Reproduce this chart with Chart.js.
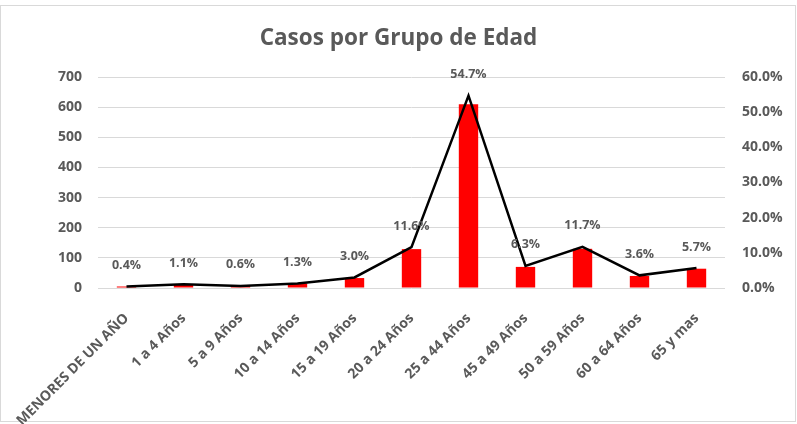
<!DOCTYPE html>
<html lang="es">
<head>
    <meta charset="UTF-8">
    <title>Casos por Grupo de Edad</title>
    <script src="https://cdn.jsdelivr.net/npm/chart.js"></script>
    <style>
        body {
            margin: 0;
            background: #ffffff;
        }
        .chart-container {
            width: 797px;
            height: 424px;
        }
    </style>
</head>
<body>
    <div class="chart-container">
        <canvas id="age-chart"></canvas>
    </div>

    <script>
        // Data
        const ageGroups = ['MENORES DE UN AÑO', '1 a 4 Años', '5 a 9 Años', '10 a 14 Años', '15 a 19 Años',
            '20 a 24 Años', '25 a 44 Años', '45 a 49 Años', '50 a 59 Años', '60 a 64 Años', '65 y mas'];
        const cases = [5, 12, 7, 15, 33, 129, 610, 70, 130, 40, 64];
        const percentages = [0.4, 1.1, 0.6, 1.3, 3.0, 11.6, 54.7, 6.3, 11.7, 3.6, 5.7];

        const gray = '#595959';
        const tickFont = { family: 'Open Sans', size: 14, weight: 'bold' };

        // Draws the percent labels above each point of the line
        const pointLabels = {
            id: 'pointLabels',
            afterDatasetsDraw(chart) {
                const ctx = chart.ctx;
                const meta = chart.getDatasetMeta(1);
                ctx.save();
                ctx.font = 'bold 12.5px "Open Sans"';
                ctx.fillStyle = gray;
                ctx.textAlign = 'center';
                ctx.textBaseline = 'middle';
                meta.data.forEach((pt, i) => {
                    ctx.fillText(percentages[i].toFixed(1) + '%', pt.x, pt.y - 21);
                });
                ctx.restore();
            }
        };

        // Light frame round the chart, like the spreadsheet chart area
        const frame = {
            id: 'frame',
            beforeDraw(chart) {
                const ctx = chart.ctx;
                ctx.save();
                ctx.strokeStyle = '#d9d9d9';
                ctx.lineWidth = 1;
                ctx.strokeRect(0.5, 5.5, 795, 416);
                ctx.restore();
            }
        };

        const ctx = document.getElementById('age-chart').getContext('2d');
        new Chart(ctx, {
            type: 'bar',
            data: {
                labels: ageGroups,
                datasets: [{
                    type: 'bar',
                    label: 'Casos',
                    data: cases,
                    backgroundColor: '#ff0000',
                    barPercentage: 0.34,
                    categoryPercentage: 1.0,
                    yAxisID: 'y',
                    order: 1
                }, {
                    type: 'line',
                    label: '%',
                    data: percentages,
                    borderColor: '#000000',
                    borderWidth: 2.5,
                    pointRadius: 0,
                    tension: 0,
                    yAxisID: 'y1',
                    order: 0
                }]
            },
            options: {
                responsive: true,
                maintainAspectRatio: false,
                animation: false,
                layout: { padding: 0 },
                plugins: {
                    legend: { display: false },
                    tooltip: { enabled: false },
                    title: {
                        display: true,
                        text: 'Casos por Grupo de Edad',
                        color: gray,
                        font: { family: 'Open Sans', size: 22.5, weight: 'bold' },
                        padding: { top: 25, bottom: 25 }
                    }
                },
                scales: {
                    x: {
                        grid: { display: false },
                        border: { display: false },
                        ticks: {
                            color: gray,
                            font: { family: 'Open Sans', size: 14, weight: 'bold' },
                            maxRotation: 45,
                            minRotation: 45,
                            padding: 14
                        },
                        afterFit(axis) { axis.height = 136; }
                    },
                    y: {
                        position: 'left',
                        min: 0,
                        max: 700,
                        grid: { color: '#d9d9d9', drawTicks: false },
                        border: { display: false },
                        ticks: {
                            stepSize: 100,
                            color: gray,
                            font: tickFont,
                            padding: 16
                        },
                        afterFit(axis) { axis.width = 98; }
                    },
                    y1: {
                        position: 'right',
                        min: 0,
                        max: 60,
                        grid: { drawOnChartArea: false, drawTicks: false },
                        border: { display: false },
                        ticks: {
                            stepSize: 10,
                            color: gray,
                            font: tickFont,
                            padding: 17,
                            callback: v => v.toFixed(1) + '%'
                        },
                        afterFit(axis) { axis.width = 72; }
                    }
                }
            },
            plugins: [pointLabels, frame]
        });
    </script>
</body>
</html>
